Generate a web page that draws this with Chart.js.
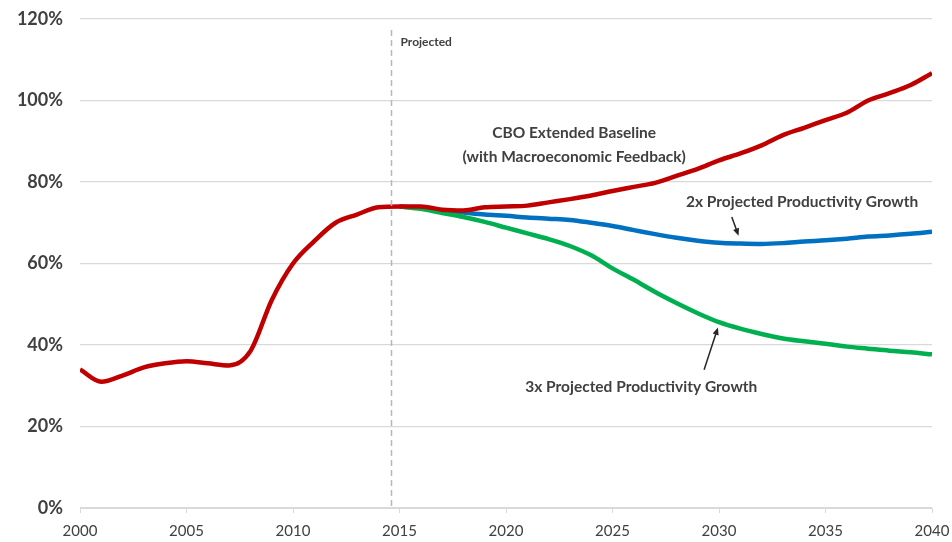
<!DOCTYPE html>
<html>
<head>
<meta charset="utf-8">
<script src="https://cdn.jsdelivr.net/npm/chart.js@4/dist/chart.umd.min.js"></script>
<style>
  html, body { margin: 0; padding: 0; background: #fff; }
  #wrap { width: 952px; height: 542px; }
</style>
</head>
<body>
<div id="wrap"><canvas id="debtChart" width="952" height="542"></canvas></div>
<script>
// years on the horizontal axis
const years = [2000, 2001, 2002, 2003, 2004, 2005, 2006, 2007, 2008, 2009,
  2010, 2011, 2012, 2013, 2014, 2015, 2016, 2017, 2018, 2019,
  2020, 2021, 2022, 2023, 2024, 2025, 2026, 2027, 2028, 2029,
  2030, 2031, 2032, 2033, 2034, 2035, 2036, 2037, 2038, 2039, 2040];
const projYears = [2015, 2016, 2017, 2018, 2019, 2020, 2021, 2022, 2023, 2024,
  2025, 2026, 2027, 2028, 2029, 2030, 2031, 2032, 2033, 2034,
  2035, 2036, 2037, 2038, 2039, 2040];

// debt held by public, % of GDP
const baseline = [34, 31, 32.5, 34.5, 35.5, 36, 35.5, 35, 38.5, 51,
  60, 65.5, 70, 72, 73.8, 74, 74, 73.2, 73, 73.8,
  74, 74.2, 75, 75.8, 76.7, 77.8, 78.8, 79.8, 81.5, 83.2,
  85.3, 87, 89, 91.5, 93.3, 95.2, 97, 100, 101.8, 103.8, 106.7];
const twoX = [74, 73.6, 73, 72.5, 72, 71.7, 71.3, 71, 70.7, 70,
  69.2, 68.2, 67.2, 66.3, 65.6, 65.1, 64.9, 64.8, 65, 65.4,
  65.7, 66.1, 66.6, 66.9, 67.3, 67.8];
const threeX = [74, 73.4, 72.4, 71.4, 70.2, 68.8, 67.4, 66, 64.3, 62,
  58.8, 56, 53, 50.3, 47.8, 45.6, 44, 42.7, 41.6, 40.9,
  40.3, 39.6, 39.1, 38.6, 38.2, 37.7];

const yTicks = [0, 20, 40, 60, 80, 100, 120];
const projectedAt = 2014.6;

const pts = (xs, ys) => xs.map((x, i) => ({ x: x, y: ys[i] }));

const textColor = '#404040';
const noteFont = 'bold 15.5px Lato, "Open Sans", sans-serif';

// notes: text placed at data coordinates, arrows between data points
const notes = [
  { text: 'CBO Extended Baseline', x: 2023.2, y: 92.0 },
  { text: '(with Macroeconomic Feedback)', x: 2023.2, y: 86.1 },
  { text: '2x Projected Productivity Growth', x: 2033.9, y: 75.1 },
  { text: '3x Projected Productivity Growth', x: 2026.35, y: 29.8 }
];
const arrows = [
  { from: [2030.6, 71.4], to: [2030.92, 66.8] },
  { from: [2029.3, 33.9], to: [2029.95, 44.3] }
];

const overlay = {
  id: 'overlay',
  afterDatasetsDraw(chart) {
    const c = chart.ctx, xs = chart.scales.x, ys = chart.scales.y;
    const area = chart.chartArea;
    c.save();
    // projected divider
    const px = Math.round(xs.getPixelForValue(projectedAt)) + 0.5;
    c.strokeStyle = '#b8b8b8';
    c.lineWidth = 1.5;
    c.setLineDash([6, 4]);
    c.beginPath();
    c.moveTo(px, area.top + 11);
    c.lineTo(px, area.bottom);
    c.stroke();
    c.setLineDash([]);
    c.fillStyle = textColor;
    c.font = 'bold 12px Lato, "Open Sans", sans-serif';
    c.textAlign = 'left';
    c.textBaseline = 'middle';
    c.fillText('Projected', px + 9, area.top + 23);

    c.font = noteFont;
    c.textAlign = 'center';
    notes.forEach(n => {
      c.fillText(n.text, xs.getPixelForValue(n.x), ys.getPixelForValue(n.y));
    });

    c.strokeStyle = '#262626';
    c.fillStyle = '#262626';
    c.lineWidth = 1.5;
    arrows.forEach(a => {
      const x1 = xs.getPixelForValue(a.from[0]), y1 = ys.getPixelForValue(a.from[1]);
      const x2 = xs.getPixelForValue(a.to[0]), y2 = ys.getPixelForValue(a.to[1]);
      const ang = Math.atan2(y2 - y1, x2 - x1);
      c.beginPath();
      c.moveTo(x1, y1);
      c.lineTo(x2 - 5 * Math.cos(ang), y2 - 5 * Math.sin(ang));
      c.stroke();
      c.beginPath();
      c.moveTo(x2, y2);
      c.lineTo(x2 - 8 * Math.cos(ang - 0.4), y2 - 8 * Math.sin(ang - 0.4));
      c.lineTo(x2 - 8 * Math.cos(ang + 0.4), y2 - 8 * Math.sin(ang + 0.4));
      c.closePath();
      c.fill();
    });
    c.restore();
  }
};

const ctx = document.getElementById('debtChart').getContext('2d');
const debtChart = new Chart(ctx, {
  type: 'line',
  data: {
    datasets: [
      { label: 'CBO Extended Baseline', data: pts(years, baseline), borderColor: '#c00000' },
      { label: '3x Projected Productivity Growth', data: pts(projYears, threeX), borderColor: '#00b050' },
      { label: '2x Projected Productivity Growth', data: pts(projYears, twoX), borderColor: '#0070c0' }
    ]
  },
  options: {
    responsive: false,
    animation: false,
    layout: { padding: { top: 19, right: 20, left: 0, bottom: 0 } },
    elements: {
      line: { borderWidth: 4.5, tension: 0.4, cubicInterpolationMode: 'monotone' },
      point: { radius: 0 }
    },
    plugins: { legend: { display: false }, tooltip: { enabled: false } },
    scales: {
      x: {
        type: 'linear',
        min: 2000, max: 2040,
        afterFit(s) { s.height = 34; s.paddingRight = 0; },
        afterBuildTicks(s) { s.ticks = [2000, 2005, 2010, 2015, 2020, 2025, 2030, 2035, 2040].map(v => ({ value: v })); },
        border: { color: '#d9d9d9', width: 1 },
        grid: { drawOnChartArea: false, color: '#d9d9d9', tickLength: 5 },
        ticks: {
          color: textColor,
          padding: 9,
          maxRotation: 0,
          font: { family: '"Liberation Sans Narrow", Lato, sans-serif', size: 15 },
          callback: v => String(v)
        }
      },
      y: {
        min: 0, max: 120,
        afterFit(s) { s.width = 80; s.paddingTop = 0; s.paddingBottom = 0; },
        afterBuildTicks(s) { s.ticks = yTicks.map(v => ({ value: v })); },
        border: { display: false },
        grid: { color: '#d9d9d9', lineWidth: 1.2, drawTicks: false },
        ticks: {
          color: textColor,
          padding: 17,
          font: { family: 'Lato, "Open Sans", sans-serif', size: 18, weight: 'bold' },
          callback: v => v + '%'
        }
      }
    }
  },
  plugins: [overlay]
});
</script>
</body>
</html>
